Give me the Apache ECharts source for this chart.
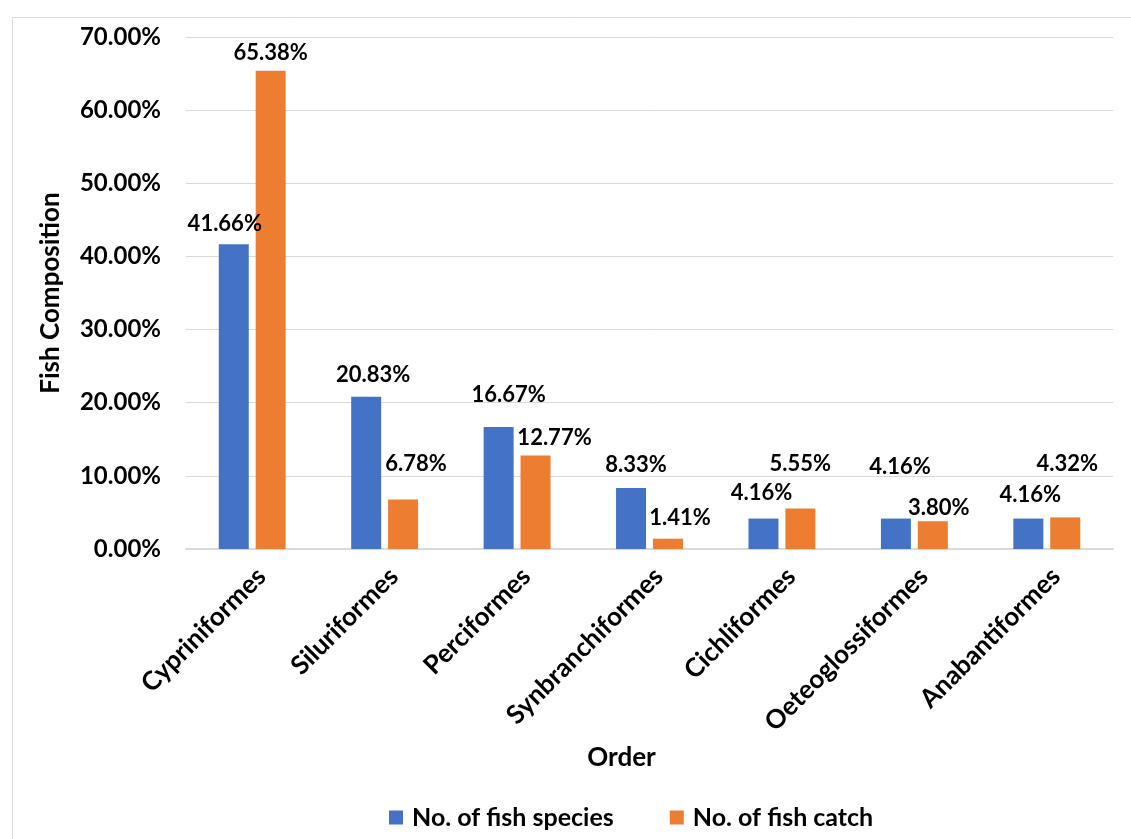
<!DOCTYPE html>
<html>
<head>
<meta charset="utf-8">
<title>Fish Composition by Order</title>
<script src="https://cdn.jsdelivr.net/npm/echarts@6.0.0/dist/echarts.min.js"></script>
<style>
  html, body { margin: 0; padding: 0; background: #fff; }
  #chart { width: 1131px; height: 839px; }
</style>
</head>
<body>
<div id="chart"></div>
<script>
// Data
const orders = ['Cypriniformes', 'Siluriformes', 'Perciformes', 'Synbranchiformes', 'Cichliformes', 'Oeteoglossiformes', 'Anabantiformes'];
const fishSpecies = [41.66, 20.83, 16.67, 8.33, 4.16, 4.16, 4.16]; // %
const fishCatch = [65.38, 6.78, 12.77, 1.41, 5.55, 3.80, 4.32];    // %
const yTicks = [0, 10, 20, 30, 40, 50, 60, 70];

// Label nudges (Excel had hand-placed labels)
const speciesLabelShift = [[-9, -4], [7, -6], [10, -16], [5, -7], [-2, -10], [4, -36], [2, -8]];
const catchLabelShift = [[0, -2], [13, -20], [19, -2], [12, -5], [0, -28], [6, 3], [2, -37]];

const colorSpecies = '#4472C4';
const colorCatch = '#ED7D31';
const font = 'Lato, "Open Sans", sans-serif';

function withLabels(values, shifts) {
  return values.map((v, i) => ({ value: v, label: { offset: shifts[i] } }));
}

const labelStyle = {
  show: true,
  position: 'top',
  distance: 5,
  color: '#000',
  fontFamily: font,
  fontWeight: 'bold',
  fontSize: 22,
  formatter: p => p.value.toFixed(2) + '%'
};

const chart = echarts.init(document.getElementById('chart'));
chart.setOption({
  backgroundColor: '#fff',
  animation: false,
  textStyle: { fontFamily: font },
  graphic: [{
    type: 'rect',
    left: 10, top: 15,
    shape: { width: 1130, height: 830 },
    style: { fill: 'none', stroke: '#d9d9d9', lineWidth: 1 },
    silent: true
  }],
  grid: { left: 186, right: 18, top: 37, bottom: 290 },
  legend: {
    bottom: 4,
    left: 384,
    itemWidth: 14,
    itemHeight: 14,
    itemGap: 56,
    icon: 'rect',
    textStyle: { color: '#000', fontWeight: 'bold', fontSize: 25, fontFamily: font, padding: [0, 0, 0, 4] },
    data: ['No. of fish species', 'No. of fish catch']
  },
  xAxis: {
    type: 'category',
    data: orders,
    name: 'Order',
    nameLocation: 'middle',
    nameGap: 196,
    nameTextStyle: { color: '#000', fontWeight: 'bold', fontSize: 26, padding: [0, 56, 0, 0] },
    axisTick: { show: false },
    axisLine: { lineStyle: { color: '#d9d9d9', width: 2 } },
    axisLabel: {
      rotate: 45,
      margin: 14,
      color: '#000',
      fontWeight: 'bold',
      fontSize: 26,
      interval: 0,
      align: 'right',
      verticalAlign: 'top'
    }
  },
  yAxis: {
    type: 'value',
    min: yTicks[0],
    max: yTicks[yTicks.length - 1],
    interval: yTicks[1] - yTicks[0],
    name: 'Fish Composition',
    nameLocation: 'middle',
    nameGap: 122,
    nameRotate: 90,
    nameTextStyle: { color: '#000', fontWeight: 'bold', fontSize: 26 },
    axisLine: { show: false },
    axisTick: { show: false },
    splitLine: { lineStyle: { color: '#d9d9d9', width: 1 } },
    axisLabel: {
      margin: 25,
      color: '#000',
      fontWeight: 'bold',
      fontSize: 24,
      formatter: v => v.toFixed(2) + '%'
    }
  },
  series: [
    {
      name: 'No. of fish species',
      type: 'bar',
      barWidth: 30,
      barGap: '23%',
      itemStyle: { color: colorSpecies },
      label: labelStyle,
      data: withLabels(fishSpecies, speciesLabelShift)
    },
    {
      name: 'No. of fish catch',
      type: 'bar',
      barWidth: 30,
      barGap: '23%',
      itemStyle: { color: colorCatch },
      label: labelStyle,
      data: withLabels(fishCatch, catchLabelShift)
    }
  ]
});
</script>
</body>
</html>
